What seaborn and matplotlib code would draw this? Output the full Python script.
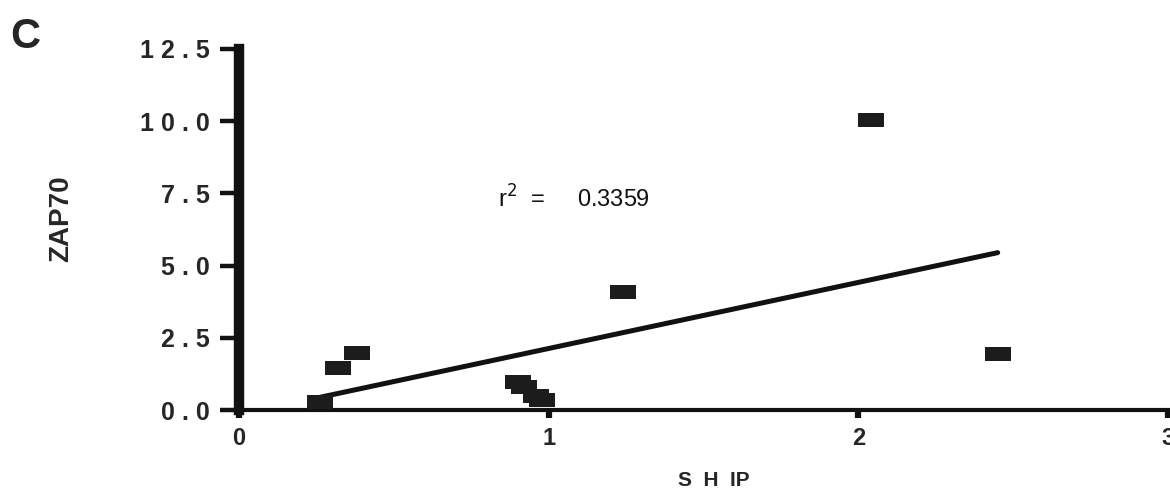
import pandas as pd
import matplotlib
matplotlib.use("Agg")
import matplotlib.pyplot as plt
import seaborn as sns

# ==========================
# DATA
# ==========================

ship = [0.26, 0.32, 0.38, 0.90, 0.92, 0.96, 0.98, 1.24, 2.04, 2.45]
zap70 = [0.28, 1.45, 1.97, 0.97, 0.79, 0.48, 0.34, 4.09, 10.03, 1.93]

r2_label = "0.3359"

y_ticks = [0, 2.5, 5, 7.5, 10, 12.5]
y_tick_labels = ["0 . 0", "2 . 5", "5 . 0", "7 . 5", "1 0 . 0", "1 2 . 5"]
x_ticks = [0, 1, 2, 3]
x_tick_labels = ["0", "1", "2", "3"]

df = pd.DataFrame({"SHIP": ship, "ZAP70": zap70})

# ==========================
# STYLE
# ==========================

sns.set_style("ticks")
plt.rcParams["font.family"] = ["Liberation Sans", "DejaVu Sans"]

fig = plt.figure(figsize=(11.7, 5.04), dpi=100)
ax = fig.add_axes([0.2043, 0.1865, 0.794, 0.7163])

# flat rectangle marker like the original print
rect = [(-1, -0.58), (1, -0.58), (1, 0.58), (-1, 0.58), (-1, -0.58)]

sns.regplot(
    data=df,
    x="SHIP",
    y="ZAP70",
    ci=None,
    truncate=True,
    marker=rect,
    color="#1c1c1c",
    scatter_kws={"s": 330, "alpha": 1, "linewidths": 0,
                 "clip_on": False, "zorder": 3},
    line_kws={"linewidth": 3.6, "color": "#111111", "solid_capstyle": "round"},
    ax=ax
)

ax.set_xlim(0, 3)
ax.set_ylim(0, 12.5)

ax.set_xticks(x_ticks)
ax.set_xticklabels(x_tick_labels, fontsize=17, fontweight="bold")
ax.set_yticks(y_ticks)
ax.set_yticklabels(y_tick_labels, fontsize=18, fontweight="bold")

ax.tick_params(axis="y", direction="out", length=14, width=3.2, pad=7, color="#111111")
ax.tick_params(axis="x", direction="out", length=6, width=4.5, pad=6, color="#111111")

sns.despine(ax=ax)
ax.spines["left"].set_linewidth(7.5)
ax.spines["left"].set_color("#111111")
ax.spines["bottom"].set_linewidth(3)
ax.spines["bottom"].set_color("#111111")

ax.set_xlabel("S  H  IP", fontsize=15, fontweight="bold", ha="right")
ax.xaxis.set_label_coords(0.55, -0.17)

ax.set_ylabel("ZAP70", fontsize=20, fontweight="bold")
ax.yaxis.set_label_coords(-0.178, 0.53)

# r squared note
ax.text(0.835, 7.0, r"r$^{2}$  =     " + r2_label, fontsize=17, color="#111111")

fig.text(0.009, 0.905, "C", fontsize=30, fontweight="bold")

plt.savefig("out.png", dpi=100)
plt.close()
